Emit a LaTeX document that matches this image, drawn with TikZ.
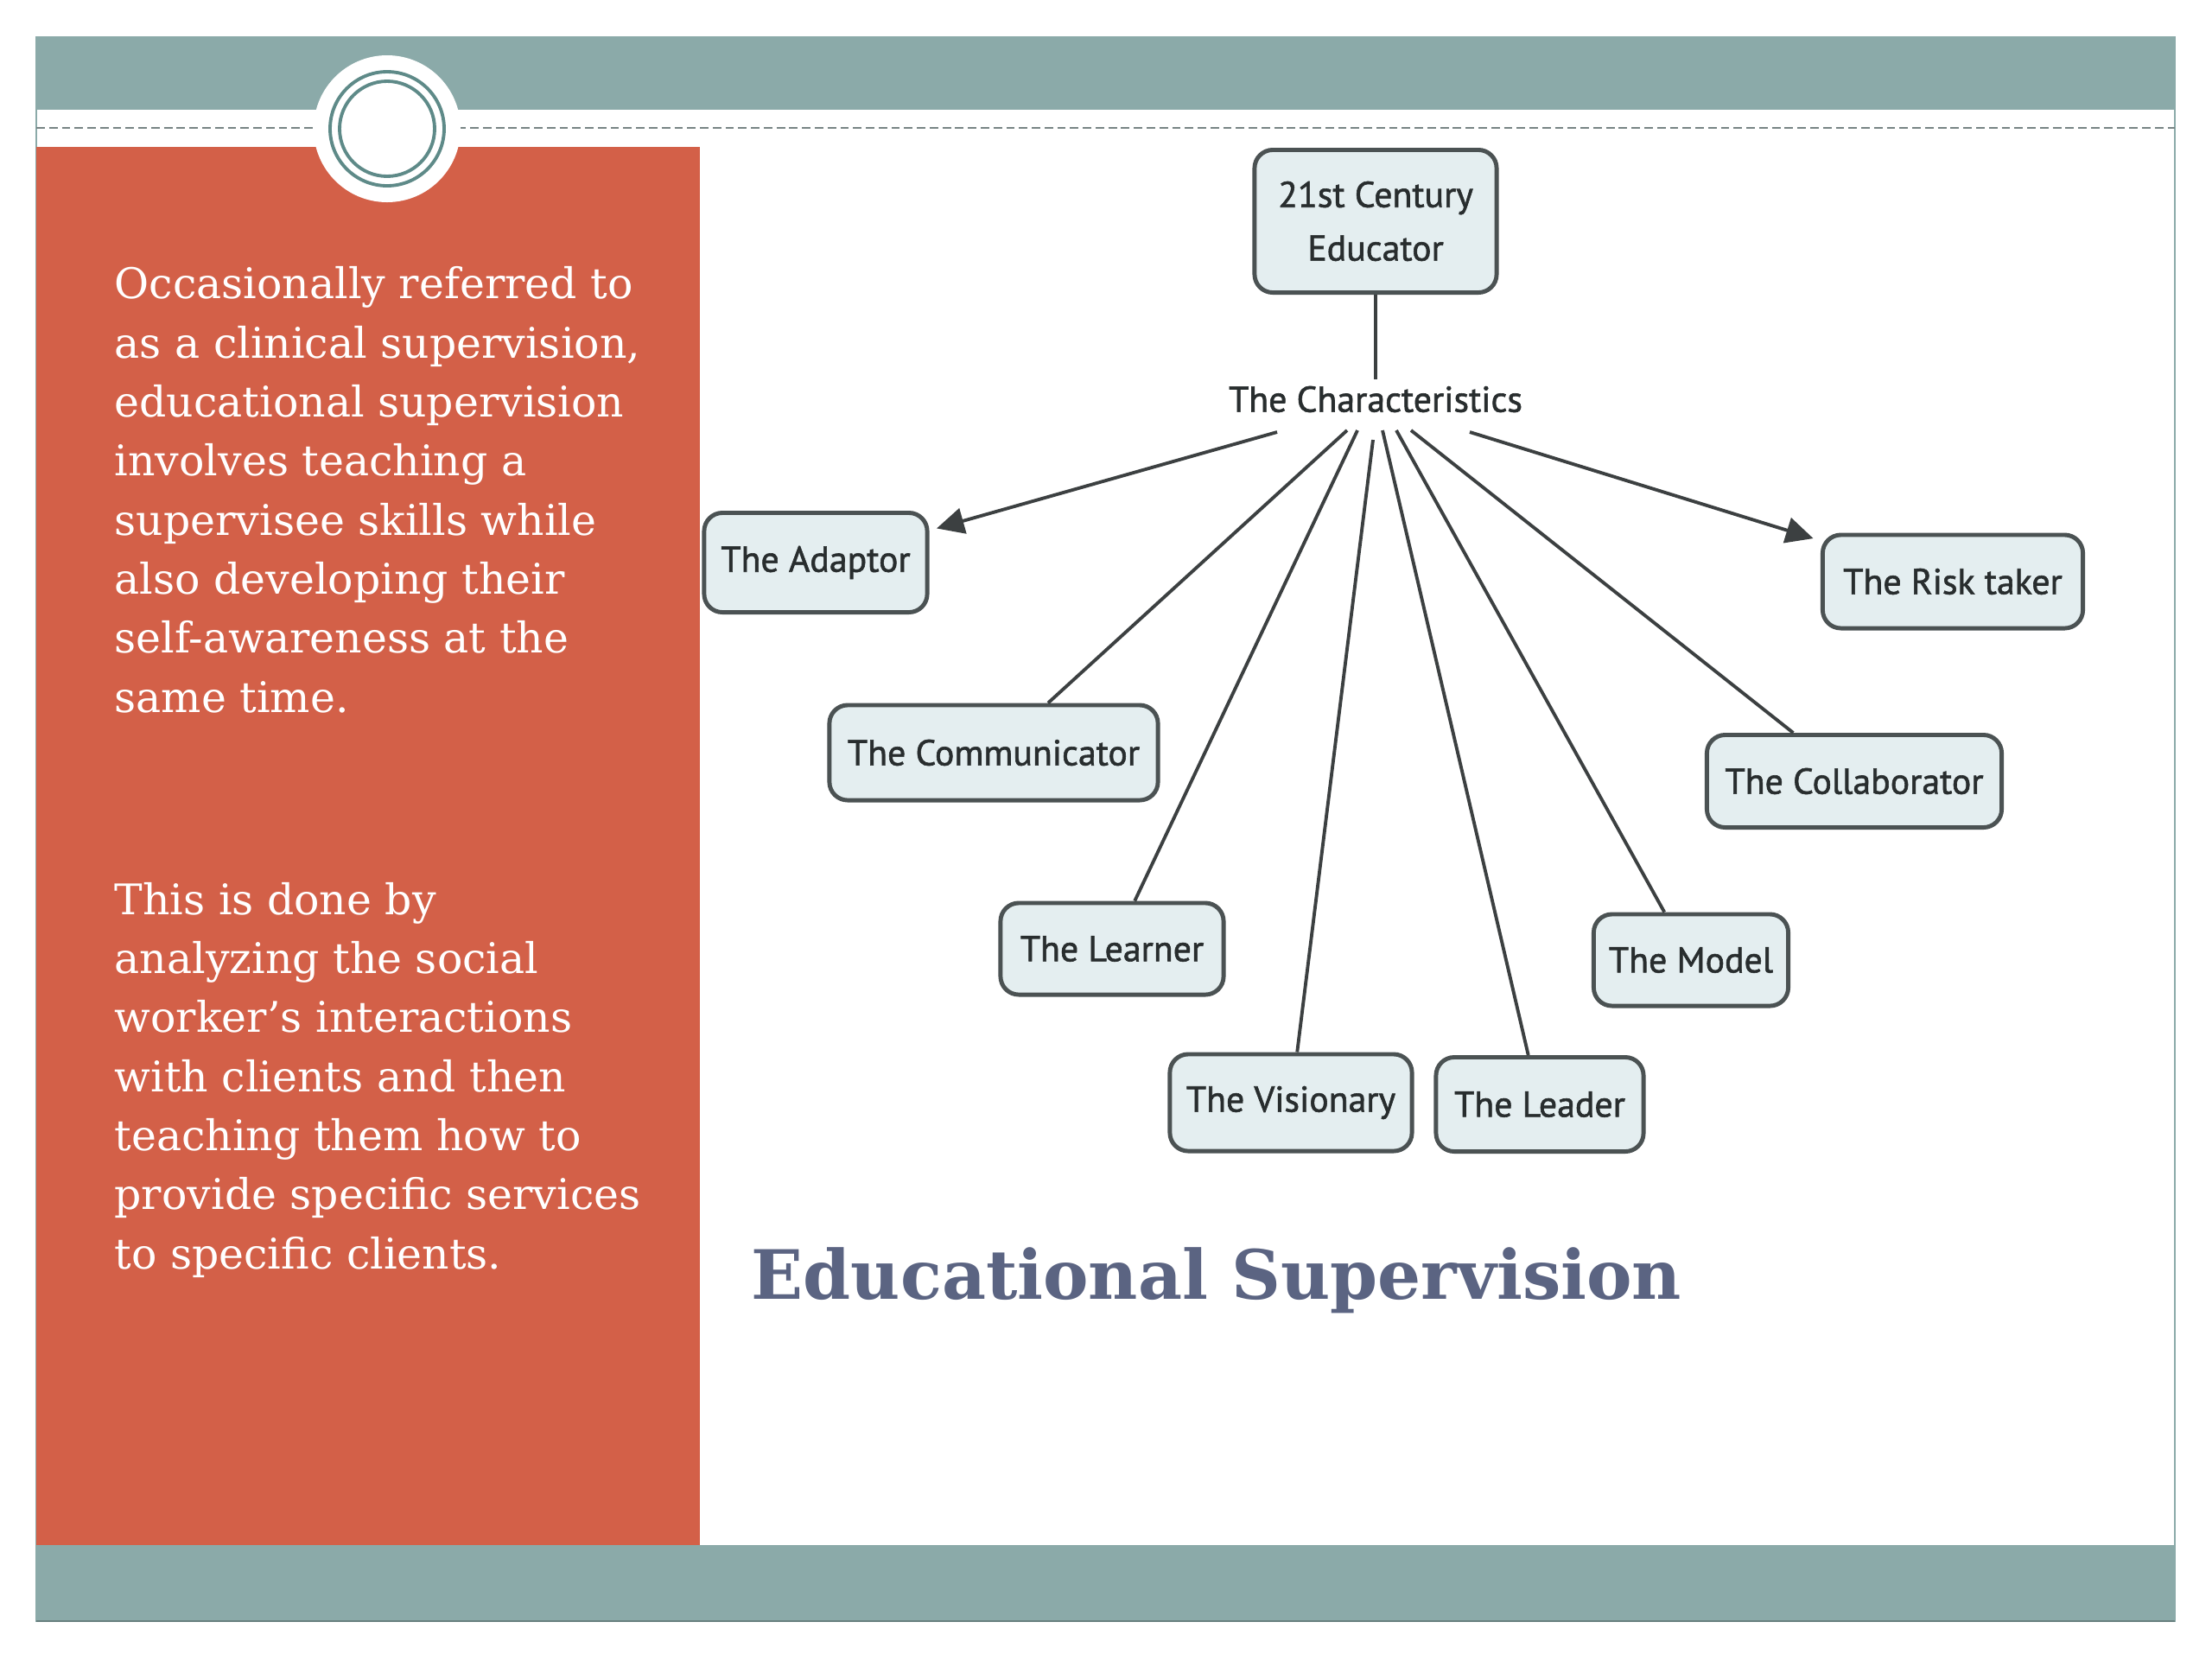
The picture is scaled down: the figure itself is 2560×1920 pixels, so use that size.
\documentclass[tikz,border=0pt]{standalone}
\usepackage{fontspec}
\setmainfont{DejaVu Serif}
\newfontfamily\nodefont[FakeBold=1.4]{PT Sans}
\usetikzlibrary{arrows.meta}
\definecolor{slideteal}{RGB}{139,170,169}
\definecolor{ringteal}{RGB}{94,138,136}
\definecolor{panelorange}{RGB}{211,96,72}
\definecolor{titleblue}{RGB}{91,100,130}
\definecolor{boxfill}{RGB}{228,238,240}
\definecolor{boxline}{RGB}{75,82,83}
\definecolor{linegray}{RGB}{60,64,65}
\definecolor{dashgray}{RGB}{120,132,132}
\definecolor{nodetext}{RGB}{40,45,46}
\begin{document}
\begin{tikzpicture}[x=0.01cm,y=-0.01cm,
  cbox/.style={draw=boxline, fill=boxfill, line width=1.4pt, rounded corners=6pt,
    inner sep=0pt, text=nodetext, font=\nodefont\fontsize{11.9}{17.6}\selectfont},
  conn/.style={draw=linegray, line width=1.1pt},
  arr/.style={conn, -{Triangle[length=9pt,width=8.5pt]}, shorten >=2.5pt},
  para/.style={anchor=base west, align=left, text=white, inner sep=0pt,
    font=\fontsize{13.9}{19.43}\selectfont}
]
\useasboundingbox (0,0) rectangle (2560,1920);
\fill[white] (0,0) rectangle (2560,1920);
% slide frame
\draw[slideteal, line width=0.8pt] (42,43) rectangle (2517,1876);
\fill[slideteal] (42,43) rectangle (2517,127);
\fill[slideteal] (42,1788) rectangle (2517,1876);
\draw[slideteal!75!black, line width=0.6pt] (42,1876) -- (2517,1876);
\fill[panelorange] (42,170) rectangle (810,1788);
\draw[dashgray, line width=0.8pt, dash pattern=on 2.8pt off 1.4pt] (42,148) -- (2517,148);
% circle ornament
\fill[white] (448,149) circle[radius=85];
\draw[ringteal, line width=1.1pt] (448,149) circle[radius=66];
\draw[ringteal, line width=1.1pt] (448,149) circle[radius=55];
% left panel text (base anchor = last line baseline)
\node[para] (para1) at (132,824) {Occasionally referred to\\as a clinical supervision,\\educational supervision\\involves teaching a\\supervisee skills while\\also developing their\\self-awareness at the\\same time.};
\node[para] (para2) at (132,1468) {This is done by\\analyzing the social\\worker’s interactions\\with clients and then\\teaching them how to\\provide specific services\\to specific clients.};
% title
\node[anchor=base west, inner sep=0pt, text=titleblue, font=\fontsize{22.4}{26}\selectfont\bfseries] (title) at (869,1503) {Educational Supervision};
% concept map
\node[cbox, minimum width=2.80cm, minimum height=1.65cm, align=center] (top) at (1592,256) {21st Century\\Educator};
\node[inner sep=2pt, text=nodetext, font=\nodefont\fontsize{11.9}{14}\selectfont] (char) at (1592,462) {The Characteristics};
\node[cbox, minimum width=2.58cm, minimum height=1.15cm] (adaptor) at (944,651) {The Adaptor};
\node[cbox, minimum width=3.01cm, minimum height=1.08cm] (risk) at (2260,673) {The Risk taker};
\node[cbox, minimum width=3.80cm, minimum height=1.10cm] (comm) at (1150,871) {The Communicator};
\node[cbox, minimum width=3.41cm, minimum height=1.07cm] (collab) at (2146,904) {The Collaborator};
\node[cbox, minimum width=2.58cm, minimum height=1.06cm] (learner) at (1287,1098) {The Learner};
\node[cbox, minimum width=2.25cm, minimum height=1.06cm] (model) at (1957,1111) {The Model};
\node[cbox, minimum width=2.80cm, minimum height=1.12cm] (vision) at (1494,1276) {The Visionary};
\node[cbox, minimum width=2.40cm, minimum height=1.09cm] (leader) at (1782,1278) {The Leader};
\coordinate (cA) at (1478,500);
\coordinate (cR) at (1701,500);
\coordinate (cC) at (1559,498);
\coordinate (cL) at (1571,498);
\coordinate (cV) at (1589,509);
\coordinate (cLd) at (1600,498);
\coordinate (cM) at (1616,498);
\coordinate (cCo) at (1633,498);
\draw[conn] (top) -- (char);
\draw[arr] (cA) -- (adaptor);
\draw[arr] (cR) -- (risk);
\draw[conn] (cC) -- (comm);
\draw[conn] (cL) -- (learner);
\draw[conn] (cV) -- (vision);
\draw[conn] (cLd) -- (leader);
\draw[conn] (cM) -- (model);
\draw[conn] (cCo) -- (collab);
\end{tikzpicture}
\end{document}
